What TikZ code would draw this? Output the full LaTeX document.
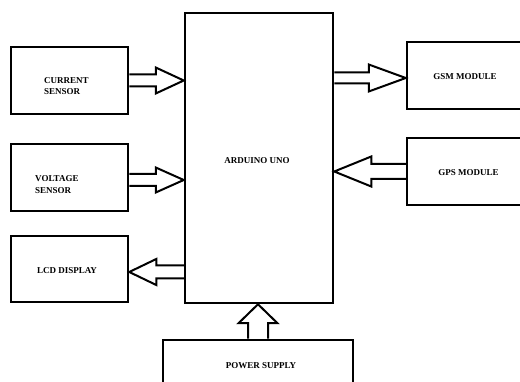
\documentclass[tikz,border=0pt]{standalone}
\usepackage{fontspec}
\setmainfont{Liberation Serif}
\usetikzlibrary{calc,backgrounds}
\tikzset{
 blk/.style={draw=black, line width=2.5pt, inner sep=0pt},
 lbl/.style={font=\fontsize{9}{11.5}\selectfont\bfseries, text=black, inner sep=0pt, align=left},
 barrow/.style={draw=black, line width=2pt, fill=white, line join=miter}
}
\newcommand{\harrow}[5]{\draw[barrow] let \p1=(#1), \p2=(#2), \n1={sign(\x2-\x1)*#5} in
 (\x1,\y1+#3pt) -- (\x2-\n1,\y1+#3pt) -- (\x2-\n1,\y1+#4pt) -- (\x2,\y2) -- (\x2-\n1,\y1-#4pt) -- (\x2-\n1,\y1-#3pt) -- (\x1,\y1-#3pt);}
\newcommand{\varrow}[5]{\draw[barrow] let \p1=(#1), \p2=(#2), \n1={sign(\y2-\y1)*#5} in
 (\x1+#3pt,\y1) -- (\x1+#3pt,\y2-\n1) -- (\x1+#4pt,\y2-\n1) -- (\x2,\y2) -- (\x1-#4pt,\y2-\n1) -- (\x1-#3pt,\y2-\n1) -- (\x1-#3pt,\y1);}
\begin{document}
\begin{tikzpicture}[x=1pt,y=-1pt]
\useasboundingbox (0,0) rectangle (520,382);
\clip (0,0) rectangle (520,382);
\begin{scope}[on background layer]
\fill[white] (0,0) rectangle (520,382);
\end{scope}
% boxes
\node[blk, minimum width=148pt, minimum height=290pt] (ard) at (259,158) {};
\node[blk, minimum width=117pt, minimum height=67pt] (cs) at (69.5,80.5) {};
\node[blk, minimum width=117pt, minimum height=67pt] (vs) at (69.5,177.5) {};
\node[blk, minimum width=117pt, minimum height=66pt] (lcd) at (69.5,269) {};
\node[blk, minimum width=123pt, minimum height=67pt] (gsm) at (468.5,75.5) {};
\node[blk, minimum width=123pt, minimum height=67pt] (gps) at (468.5,171.5) {};
\node[blk, minimum width=190pt, minimum height=60pt] (ps) at (258,370) {};
% labels
\node[lbl, anchor=west] (csl) at (44,86) {CURRENT\\SENSOR};
\node[lbl, anchor=west] (vsl) at (35,184.5) {VOLTAGE\\SENSOR};
\node[lbl] (lcdl) at (67,271) {LCD DISPLAY};
\node[lbl] (ardl) at (257,161) {ARDUINO UNO};
\node[lbl] (gsml) at (465,77) {GSM MODULE};
\node[lbl] (gpsl) at (468.5,173) {GPS MODULE};
\node[lbl] (psl) at (261,366) {POWER SUPPLY};
% block arrows
\begin{scope}[on background layer]
\harrow{cs.east}{ard.west |- cs.east}{6}{13}{28}
\coordinate (va) at ([yshift=-2.5pt]vs.east);
\harrow{va}{ard.west |- va}{6}{12.5}{28}
\coordinate (la) at ([yshift=-3pt]lcd.east);
\harrow{ard.west |- la}{la}{6.5}{13}{27}
\coordinate (ga) at ([yshift=-2.5pt]gsm.west);
\harrow{ard.east |- ga}{ga}{5.5}{13.5}{37}
\harrow{gps.west}{ard.east |- gps.west}{7.5}{15}{37}
\varrow{ps.north}{ard.south -| ps.north}{10}{19.5}{19}
\end{scope}
\end{tikzpicture}
\end{document}
